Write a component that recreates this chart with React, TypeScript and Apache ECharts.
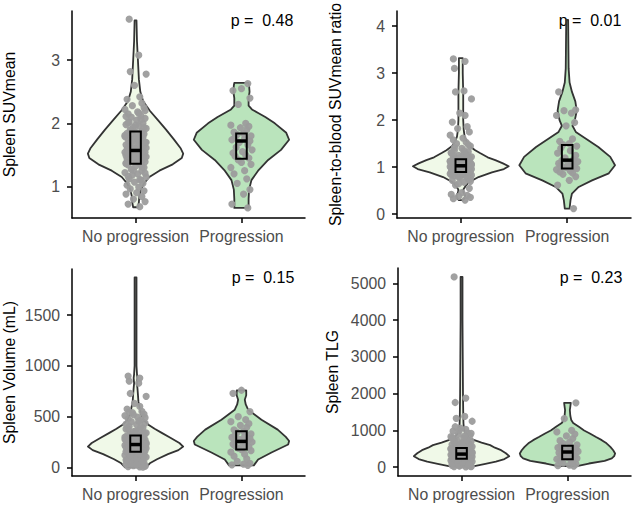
import React, { useEffect, useRef } from "react";
import * as echarts from "echarts";

const CATEGORIES = ["No progression", "Progression"];
const FILLS = ["#F0F9E8", "#BAE4BC"];

const Y_TITLES = [
  "Spleen SUVmean",
  "Spleen-to-blood SUVmean ratio",
  "Spleen Volume (mL)",
  "Spleen TLG",
];
const P_LABELS = ["p =  0.48", "p =  0.01", "p =  0.15", "p =  0.23"];
const Y_TICKS = [
  [1, 2, 3],
  [0, 1, 2, 3, 4],
  [0, 500, 1000, 1500],
  [0, 1000, 2000, 3000, 4000, 5000],
];
const Y_RANGES = [
  [0.5, 3.78],
  [-0.08, 4.32],
  [-85, 1955],
  [-240, 5420],
];

// Violin outlines: [value, relative density] from bottom to top
const VIOLIN_SUV = [
  [[0.67, 0.05], [0.75, 0.07], [0.85, 0.08], [0.95, 0.11], [1.05, 0.18], [1.15, 0.29], [1.25, 0.5], [1.35, 0.78], [1.45, 0.97], [1.52, 1.0], [1.6, 0.95], [1.75, 0.8], [1.9, 0.64], [2.05, 0.47], [2.2, 0.3], [2.35, 0.16], [2.5, 0.1], [2.7, 0.07], [3.0, 0.05], [3.3, 0.03], [3.63, 0.02]],
  [[0.66, 0.15], [0.8, 0.15], [0.95, 0.16], [1.1, 0.21], [1.26, 0.36], [1.42, 0.56], [1.58, 0.83], [1.74, 1.0], [1.85, 0.94], [2.0, 0.7], [2.1, 0.5], [2.16, 0.36], [2.22, 0.22], [2.28, 0.15], [2.4, 0.15], [2.5, 0.17], [2.6, 0.16], [2.64, 0.15]],
];
const VIOLIN_RATIO = [
  [[0.3, 0.04], [0.34, 0.08], [0.4, 0.09], [0.46, 0.06], [0.52, 0.05], [0.6, 0.1], [0.68, 0.17], [0.79, 0.37], [0.89, 0.65], [0.96, 0.9], [1.02, 1.0], [1.08, 0.88], [1.15, 0.72], [1.21, 0.56], [1.3, 0.4], [1.36, 0.3], [1.45, 0.18], [1.55, 0.12], [1.65, 0.08], [1.8, 0.06], [2.0, 0.05], [2.3, 0.05], [2.6, 0.05], [3.0, 0.04], [3.32, 0.04]],
  [[0.12, 0.05], [0.3, 0.07], [0.44, 0.1], [0.58, 0.24], [0.72, 0.52], [0.87, 0.87], [1.04, 1.0], [1.22, 0.9], [1.43, 0.65], [1.6, 0.4], [1.75, 0.18], [1.88, 0.11], [2.0, 0.16], [2.2, 0.2], [2.4, 0.17], [2.6, 0.1], [2.8, 0.05], [3.1, 0.03], [3.6, 0.025], [4.13, 0.02]],
];
const VIOLIN_VOLUME = [
  [[0, 0.22], [40, 0.3], [80, 0.45], [130, 0.68], [170, 0.9], [205, 1.0], [240, 0.92], [290, 0.74], [340, 0.55], [380, 0.4], [420, 0.27], [460, 0.18], [520, 0.12], [580, 0.09], [650, 0.06], [720, 0.05], [780, 0.04], [830, 0.03], [880, 0.04], [920, 0.03], [1000, 0.02], [1300, 0.02], [1600, 0.02], [1872, 0.02]],
  [[20, 0.26], [78, 0.35], [147, 0.63], [225, 0.98], [260, 1.0], [300, 0.93], [372, 0.76], [470, 0.42], [568, 0.14], [620, 0.09], [666, 0.07], [710, 0.1], [758, 0.1]],
];
const VIOLIN_TLG = [
  [[30, 0.27], [90, 0.5], [150, 0.72], [220, 0.9], [300, 1.0], [380, 0.93], [463, 0.83], [530, 0.7], [600, 0.6], [670, 0.42], [736, 0.27], [800, 0.15], [918, 0.08], [1050, 0.05], [1200, 0.04], [1500, 0.035], [2000, 0.03], [3000, 0.025], [4000, 0.02], [5177, 0.02]],
  [[27, 0.2], [100, 0.45], [170, 0.78], [237, 0.93], [300, 0.98], [373, 1.0], [460, 0.96], [553, 0.9], [650, 0.82], [736, 0.72], [820, 0.6], [918, 0.47], [1000, 0.35], [1098, 0.24], [1200, 0.12], [1281, 0.08], [1400, 0.06], [1553, 0.05], [1650, 0.06], [1752, 0.07]],
];

// Box summaries: [q1, median, q3]
const BOX_SUV = [[1.36, 1.57, 1.87], [1.44, 1.72, 1.84]];
const BOX_RATIO = [[0.9, 1.03, 1.17], [0.97, 1.15, 1.47]];
const BOX_VOLUME = [[155, 225, 314], [175, 256, 355]];
const BOX_TLG = [[232, 356, 520], [218, 413, 585]];

// Patient values
const SUV_NO = [0.68, 0.72, 0.76, 0.8, 0.84, 0.88, 0.9, 0.93, 0.96, 0.99, 1.02, 1.05, 1.07, 1.1, 1.12, 1.15, 1.18, 1.2, 1.22, 1.25, 1.27, 1.3, 1.32, 1.34, 1.35,
  1.37, 1.38, 1.39, 1.4, 1.41, 1.42, 1.43, 1.44, 1.45, 1.46, 1.47, 1.48, 1.48, 1.49, 1.5, 1.5, 1.51, 1.52, 1.52, 1.53, 1.54, 1.54, 1.55, 1.55, 1.56,
  1.57, 1.58, 1.59, 1.6, 1.61, 1.62, 1.63, 1.64, 1.65, 1.66, 1.68, 1.69, 1.7, 1.71, 1.72, 1.74, 1.75, 1.76, 1.78, 1.79, 1.8, 1.82, 1.83, 1.84, 1.86,
  1.88, 1.9, 1.92, 1.94, 1.96, 1.98, 2.0, 2.02, 2.05, 2.08, 2.1, 2.12, 2.15, 2.18, 2.22, 2.25, 2.28, 2.32, 2.38, 2.42, 2.6, 2.78, 2.82, 3.08, 3.65,
  1.11, 1.16, 1.21, 1.26, 1.31, 1.36, 1.4, 1.44, 1.47, 1.51, 1.53, 1.58, 1.6, 1.63, 1.67, 1.7, 1.73, 1.77, 1.81, 1.85, 1.89, 1.93, 1.97, 2.01, 2.06, 2.11, 2.16, 2.2, 1.46, 1.62];
const SUV_PROG = [0.66, 0.72, 0.88, 0.95, 1.05, 1.12, 1.2, 1.25, 1.3, 1.35, 1.38, 1.42, 1.45, 1.48, 1.5, 1.53, 1.55, 1.58, 1.62, 1.66, 1.7, 1.72, 1.74, 1.76, 1.78, 1.8, 1.82, 1.84, 1.86, 1.9, 1.93, 1.95, 1.97, 2.0, 2.3, 2.4, 2.52, 2.55, 2.63];

const RATIO_NO = [0.3, 0.33, 0.36, 0.38, 0.4, 0.42, 0.46, 0.55, 0.62, 0.68, 0.72, 0.75, 0.78, 0.8, 0.82, 0.83, 0.84, 0.85, 0.86, 0.87, 0.87, 0.88, 0.88, 0.89, 0.89,
  0.9, 0.91, 0.91, 0.92, 0.93, 0.93, 0.94, 0.95, 0.95, 0.96, 0.96, 0.97, 0.97, 0.98, 0.98, 0.99, 0.99, 1.0, 1.0, 1.0, 1.01, 1.01, 1.02, 1.02, 1.03,
  1.03, 1.04, 1.04, 1.05, 1.05, 1.06, 1.06, 1.07, 1.07, 1.08, 1.08, 1.09, 1.09, 1.1, 1.1, 1.11, 1.11, 1.12, 1.12, 1.13, 1.13, 1.14, 1.14, 1.15, 1.16,
  1.18, 1.2, 1.22, 1.25, 1.28, 1.3, 1.33, 1.36, 1.4, 1.45, 1.5, 1.53, 1.58, 1.62, 1.68, 1.75, 1.82, 1.86, 1.96, 2.1, 2.15, 2.45, 2.6, 2.62, 3.1, 3.25, 3.3,
  0.76, 0.79, 0.81, 0.84, 0.86, 0.9, 0.92, 0.94, 0.96, 0.98, 1.0, 1.02, 1.04, 1.06, 1.08, 1.1, 1.12, 1.15, 1.17, 1.19, 1.21, 1.24, 1.27, 1.31, 1.35, 0.7, 0.65, 1.42, 1.48, 0.88];
const RATIO_PROG = [0.12, 0.62, 0.72, 0.8, 0.85, 0.88, 0.9, 0.92, 0.95, 0.97, 0.99, 1.0, 1.02, 1.04, 1.06, 1.08, 1.1, 1.12, 1.14, 1.16, 1.2, 1.25, 1.3, 1.35, 1.4, 1.45, 1.48, 1.5, 1.55, 1.6, 1.88, 1.95, 2.1, 2.15, 2.2, 2.22, 2.6];

const VOLUME_NO = [5, 8, 12, 18, 22, 30, 38, 45, 52, 60, 68, 75, 82, 90, 96, 102, 108, 115, 120, 126, 132, 138, 142, 148, 152,
  156, 160, 163, 166, 170, 173, 176, 180, 183, 186, 189, 192, 195, 198, 201, 204, 207, 210, 212, 215, 217, 219, 221, 223, 225,
  228, 231, 234, 238, 241, 245, 248, 252, 256, 260, 264, 268, 272, 276, 280, 284, 288, 292, 296, 299, 302, 305, 308, 311, 314,
  322, 330, 340, 352, 365, 378, 390, 405, 420, 435, 450, 465, 480, 495, 510, 525, 540, 552, 575, 600, 630, 700, 728, 830, 850, 880, 900,
  15, 35, 55, 72, 88, 105, 118, 135, 150, 168, 185, 200, 214, 230, 246, 262, 278, 295, 318, 336, 358, 380, 400, 425, 455, 490, 520, 545, 3, 28];
const VOLUME_PROG = [20, 25, 32, 40, 60, 85, 110, 130, 150, 165, 176, 190, 200, 210, 220, 230, 240, 250, 256, 265, 275, 285, 295, 305, 315, 330, 345, 355, 370, 395, 415, 430, 450, 470, 500, 550, 730, 760];

const TLG_NO = [10, 18, 25, 32, 40, 50, 60, 70, 80, 92, 102, 112, 122, 132, 142, 152, 162, 172, 182, 190, 198, 206, 214, 222, 229,
  236, 241, 246, 251, 256, 261, 266, 271, 276, 281, 286, 291, 296, 301, 306, 311, 316, 321, 326, 331, 336, 341, 345, 349, 353,
  358, 364, 370, 377, 384, 391, 398, 405, 412, 420, 428, 436, 444, 452, 460, 468, 476, 484, 492, 499, 505, 510, 514, 517, 520,
  530, 545, 560, 578, 596, 615, 635, 655, 675, 700, 725, 750, 775, 800, 830, 860, 895, 930, 980, 1030, 1060, 1250, 1330, 1380, 1760, 1880, 5177,
  15, 45, 75, 105, 135, 165, 195, 225, 255, 285, 315, 345, 375, 405, 435, 465, 495, 525, 560, 600, 640, 690, 740, 790, 850, 920, 1000, 1100, 65, 480];
const TLG_PROG = [30, 40, 55, 80, 110, 140, 170, 200, 218, 240, 265, 290, 315, 340, 365, 390, 413, 430, 450, 470, 490, 510, 530, 555, 585, 610, 640, 680, 720, 780, 850, 900, 960, 1000, 1320, 1750];

// Horizontal jitter offsets (x units) applied to the points in order
const JITTER = [0.04, -0.07, 0.09, -0.02, 0.06, -0.09, 0.01, 0.08, -0.05, 0.03, -0.08, 0.07, -0.01, 0.05, -0.06, 0.1, -0.03, 0.02, -0.1, 0.06,
  -0.04, 0.08, 0.0, -0.07, 0.05, -0.09, 0.03, 0.09, -0.02, -0.06, 0.07, 0.01, -0.08, 0.04, -0.05, 0.1, -0.01, 0.06, -0.09, 0.02,
  0.08, -0.04, 0.05, -0.07, 0.03, -0.1, 0.09, 0.0, -0.03, 0.07, -0.06, 0.04, -0.08, 0.01, 0.1, -0.05, 0.06, -0.02, 0.08, -0.09,
  0.03, -0.06, 0.09, -0.04, 0.02, -0.07, 0.05, -0.01, 0.07, -0.1, 0.04, -0.03, 0.08, -0.08, 0.0, 0.06, -0.05, 0.1, -0.02, 0.03,
  -0.09, 0.07, -0.06, 0.01, 0.09, -0.04, 0.05, -0.07, 0.02, -0.1, 0.08, -0.03, 0.06, -0.08, 0.04, -0.01, 0.1, -0.05, 0.03, -0.06];

const PANELS = [
  { violins: VIOLIN_SUV, boxes: BOX_SUV, points: [SUV_NO, SUV_PROG] },
  { violins: VIOLIN_RATIO, boxes: BOX_RATIO, points: [RATIO_NO, RATIO_PROG] },
  { violins: VIOLIN_VOLUME, boxes: BOX_VOLUME, points: [VOLUME_NO, VOLUME_PROG] },
  { violins: VIOLIN_TLG, boxes: BOX_TLG, points: [TLG_NO, TLG_PROG] },
];

const FONT = "'Liberation Sans', Arial, Helvetica, sans-serif";
const VIOLIN_HALF = 0.45;
const BOX_HALF = 0.05;

const GRIDS = [
  { left: 70, top: 11, width: 235, height: 207 },
  { left: 397, top: 11, width: 234, height: 207 },
  { left: 70, top: 269, width: 235, height: 207 },
  { left: 398, top: 268, width: 233, height: 208 },
];
const TITLE_GAPS = [55, 54, 55, 58];
const P_POS = [
  [262, 20],
  [590, 20],
  [263, 277],
  [591, 277],
];

function buildOption() {
  const xAxis = GRIDS.map((_, i) => ({
    type: "value",
    gridIndex: i,
    min: 0.4,
    max: 2.6,
    splitLine: { show: false },
    axisLine: { show: true, onZero: false, lineStyle: { color: "#000", width: 1.5 } },
    axisTick: { show: true, customValues: [1, 2], length: 5, lineStyle: { color: "#000", width: 1.5 } },
    axisLabel: {
      customValues: [1, 2],
      formatter: (v: number) => CATEGORIES[Math.round(v) - 1],
      color: "#4d4d4d",
      fontSize: 15.8,
      fontFamily: FONT,
      margin: 10,
    },
  }));

  const yAxis = GRIDS.map((_, i) => ({
    type: "value",
    gridIndex: i,
    min: Y_RANGES[i][0],
    max: Y_RANGES[i][1],
    splitLine: { show: false },
    axisLine: { show: true, onZero: false, lineStyle: { color: "#000", width: 1.5 } },
    axisTick: { show: true, customValues: Y_TICKS[i], length: 5, lineStyle: { color: "#000", width: 1.5 } },
    axisLabel: {
      customValues: Y_TICKS[i],
      formatter: (v: number) => String(v),
      color: "#4d4d4d",
      fontSize: 15.8,
      fontFamily: FONT,
      margin: 12,
    },
    name: Y_TITLES[i],
    nameLocation: "middle",
    nameRotate: 90,
    nameGap: TITLE_GAPS[i],
    nameTextStyle: { color: "#000", fontSize: 15.8, fontFamily: FONT },
  }));

  const series: any[] = [];
  PANELS.forEach((panel, i) => {
    series.push({
      type: "custom",
      xAxisIndex: i,
      yAxisIndex: i,
      z: 1,
      silent: true,
      data: [
        [1, 0],
        [2, 1],
      ],
      renderItem: (_params: any, api: any) => {
        const cx = api.value(0);
        const g = api.value(1);
        const prof = panel.violins[g];
        const right = prof.map(([y, w]: number[]) => api.coord([cx + w * VIOLIN_HALF, y]));
        const left = prof
          .slice()
          .reverse()
          .map(([y, w]: number[]) => api.coord([cx - w * VIOLIN_HALF, y]));
        return {
          type: "polygon",
          shape: { points: right.concat(left) },
          style: { fill: FILLS[g], stroke: "#333333", lineWidth: 1.8, lineJoin: "round" },
        };
      },
    });
    panel.points.forEach((vals, g) => {
      series.push({
        type: "scatter",
        xAxisIndex: i,
        yAxisIndex: i,
        z: 2,
        silent: true,
        symbol: "circle",
        symbolSize: 7.2,
        itemStyle: { color: "#9c9c9c", opacity: 0.95 },
        data: vals.map((v, k) => [g + 1 + JITTER[(k + g * 37) % JITTER.length], v]),
      });
    });
    series.push({
      type: "custom",
      xAxisIndex: i,
      yAxisIndex: i,
      z: 3,
      silent: true,
      data: panel.boxes.map((b, g) => [g + 1, b[0], b[1], b[2]]),
      renderItem: (_params: any, api: any) => {
        const cx = api.value(0);
        const tl = api.coord([cx - BOX_HALF, api.value(3)]);
        const br = api.coord([cx + BOX_HALF, api.value(1)]);
        const m1 = api.coord([cx - BOX_HALF, api.value(2)]);
        const m2 = api.coord([cx + BOX_HALF, api.value(2)]);
        return {
          type: "group",
          children: [
            {
              type: "rect",
              shape: { x: tl[0], y: tl[1], width: br[0] - tl[0], height: br[1] - tl[1] },
              style: { fill: "rgba(0,0,0,0)", stroke: "#000", lineWidth: 2 },
            },
            {
              type: "line",
              shape: { x1: m1[0], y1: m1[1], x2: m2[0], y2: m2[1] },
              style: { stroke: "#000", lineWidth: 3.5 },
            },
          ],
        };
      },
    });
  });

  const graphic = P_LABELS.map((t, i) => ({
    type: "text",
    x: P_POS[i][0],
    y: P_POS[i][1],
    style: {
      text: t,
      fill: "#000",
      fontSize: 16,
      fontFamily: FONT,
      align: "center",
      verticalAlign: "middle",
    },
  }));

  return {
    animation: false,
    backgroundColor: "#ffffff",
    grid: GRIDS,
    xAxis,
    yAxis,
    series,
    graphic,
  };
}

export default function App() {
  const ref = useRef<HTMLDivElement>(null);
  useEffect(() => {
    document.body.style.margin = "0";
    if (!ref.current) return;
    const chart = echarts.init(ref.current, undefined, { renderer: "svg" });
    chart.setOption(buildOption() as any);
    return () => chart.dispose();
  }, []);
  return <div ref={ref} style={{ width: 633, height: 505 }} />;
}
